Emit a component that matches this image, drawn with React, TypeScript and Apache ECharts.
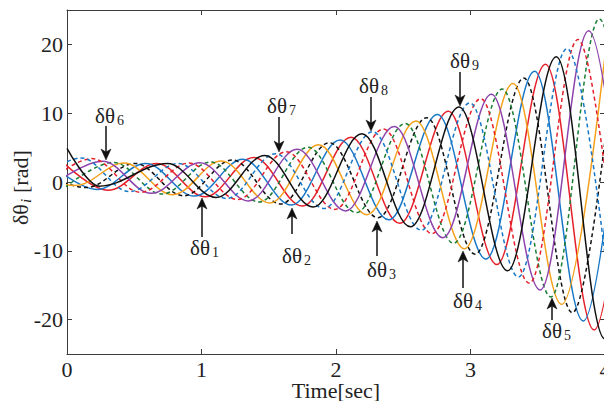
import React, { useEffect, useRef } from "react";
import * as echarts from "echarts";

// Axis tick values
const xTickValues = [0, 1, 2, 3, 4];
const yTickValues = [-20, -10, 0, 10, 20];

// Each curve: [time (sec), δθ (rad)] at its successive peaks / troughs
const dTheta1 = [[-0.056, 3.4], [0.305, -1.2], [0.667, 2.7], [1.028, -2.15], [1.389, 3.57], [1.751, -3.5], [2.112, 6.5], [2.474, -6.0], [2.835, 10.3], [3.196, -12.0], [3.558, 17.1], [3.919, -21.5], [4.281, 30.0]];
const dTheta2 = [[-0.137, 2.8], [0.224, -1.1], [0.586, 2.7], [0.947, -2.05], [1.308, 3.3], [1.67, -3.35], [2.031, 6.1], [2.393, -5.5], [2.754, 9.8], [3.115, -11.2], [3.477, 16.1], [3.838, -20.2], [4.199, 28.5]];
const dTheta3 = [[-0.217, 1.5], [0.144, -0.8], [0.506, 2.7], [0.867, -2.0], [1.229, 3.2], [1.59, -3.2], [1.951, 5.7], [2.313, -5.2], [2.674, 9.35], [3.035, -10.5], [3.397, 15.1], [3.758, -19.0], [4.119, 27.0]];
const dTheta4 = [[-0.297, 1.0], [0.064, -0.5], [0.425, 2.75], [0.787, -1.85], [1.148, 3.05], [1.51, -3.05], [1.871, 5.4], [2.232, -4.75], [2.594, 8.85], [2.955, -9.7], [3.316, 14.3], [3.678, -17.8], [4.039, 25.3]];
const dTheta5 = [[-0.016, -0.8], [0.345, 2.85], [0.707, -1.75], [1.068, 2.9], [1.429, -2.9], [1.791, 5.05], [2.152, -4.45], [2.514, 8.5], [2.875, -8.9], [3.236, 13.5], [3.598, -16.7], [3.959, 23.7], [4.321, -29.0]];
const dTheta6 = [[-0.096, -0.3], [0.265, 3.0], [0.626, -1.65], [0.988, 2.8], [1.349, -2.75], [1.711, 4.75], [2.072, -4.2], [2.433, 8.05], [2.795, -8.1], [3.156, 12.75], [3.518, -15.7], [3.879, 22.0], [4.24, -27.0]];
const dTheta7 = [[-0.176, -0.6], [0.185, 3.4], [0.546, -1.5], [0.907, 2.75], [1.269, -2.55], [1.63, 4.4], [1.992, -3.98], [2.353, 7.7], [2.714, -7.5], [3.076, 12.1], [3.437, -14.7], [3.799, 20.7], [4.16, -25.8]];
const dTheta8 = [[-0.257, -0.5], [0.104, 3.5], [0.465, -1.4], [0.827, 2.7], [1.188, -2.4], [1.55, 4.1], [1.911, -3.85], [2.272, 7.3], [2.634, -7.0], [2.995, 11.5], [3.357, -13.8], [3.718, 19.4], [4.079, -24.3]];
const dTheta9 = [[0, 4.9], [0.24, -0.6], [0.747, 2.7], [1.108, -2.25], [1.47, 3.85], [1.831, -3.65], [2.193, 7.0], [2.554, -6.5], [2.915, 10.9], [3.276, -12.9], [3.638, 18.2], [3.999, -22.8], [4.36, 32.0]];

const curves = [dTheta1, dTheta2, dTheta3, dTheta4, dTheta5, dTheta6, dTheta7, dTheta8, dTheta9];
const curveNames = ["δθ1", "δθ2", "δθ3", "δθ4", "δθ5", "δθ6", "δθ7", "δθ8", "δθ9"];
const annotationSubs = ["1", "2", "3", "4", "5", "6", "7", "8", "9"];

const SERIF = "'Liberation Serif', 'Times New Roman', serif";

export default function App() {
  const ref = useRef<HTMLDivElement>(null);

  useEffect(() => {
    if (!ref.current) return;
    const chart = echarts.init(ref.current, undefined, { renderer: "svg" });

    const styles = [
      { color: "#e5202a", type: "solid" },
      { color: "#1877c6", type: "solid" },
      { color: "#111111", type: [4, 3] },
      { color: "#f5a11c", type: "solid" },
      { color: "#1a7d34", type: [4, 3] },
      { color: "#8e44ad", type: "solid" },
      { color: "#e5202a", type: [4, 3] },
      { color: "#1877c6", type: [4, 3] },
      { color: "#111111", type: "solid" },
    ];

    // annotation layout (pixels)
    const annLayout = [
      { x: 202, tail: 237, tip: 198, tx: 190, base: 255 },
      { x: 292, tail: 234, tip: 208, tx: 282, base: 263 },
      { x: 377, tail: 256, tip: 221, tx: 367, base: 277 },
      { x: 463, tail: 288, tip: 251, tx: 453, base: 308 },
      { x: 552, tail: 320, tip: 298, tx: 542, base: 338 },
      { x: 106, tail: 126, tip: 160, tx: 95, base: 123 },
      { x: 279, tail: 117, tip: 152, tx: 267, base: 113 },
      { x: 371, tail: 97, tip: 131, tx: 359, base: 93 },
      { x: 460, tail: 72, tip: 106, tx: 450, base: 68 },
    ];

    const graphics: any[] = [];
    annLayout.forEach((a, i) => {
      const down = a.tip > a.tail;
      const d = down ? 1 : -1;
      graphics.push({
        type: "line",
        shape: { x1: a.x, y1: a.tail, x2: a.x, y2: a.tip - d * 7 },
        style: { stroke: "#111", lineWidth: 1.5 },
        silent: true,
      });
      graphics.push({
        type: "polygon",
        shape: {
          points: [
            [a.x, a.tip],
            [a.x - 5, a.tip - d * 11],
            [a.x, a.tip - d * 8],
            [a.x + 5, a.tip - d * 11],
          ],
        },
        style: { fill: "#111", stroke: "#111", lineWidth: 0.5 },
        silent: true,
      });
      graphics.push({
        type: "text",
        x: a.tx,
        y: a.base - 7.4,
        style: {
          text: "δθ",
          font: `21px ${SERIF}`,
          fill: "#222",
          align: "left",
          verticalAlign: "middle",
        },
        silent: true,
      });
      graphics.push({
        type: "text",
        x: a.tx + 22,
        y: a.base + 2 - 4.9,
        style: {
          text: annotationSubs[i],
          font: `14px ${SERIF}`,
          fill: "#222",
          align: "left",
          verticalAlign: "middle",
        },
        silent: true,
      });
    });

    // Y axis name, rotated
    graphics.push({
      type: "group",
      x: 28,
      y: 225,
      rotation: Math.PI / 2,
      silent: true,
      children: [
        {
          type: "text",
          x: 0,
          y: -7.7,
          style: { text: "δθ", font: `22px ${SERIF}`, fill: "#222", align: "left", verticalAlign: "middle" },
        },
        {
          type: "text",
          x: 22,
          y: 3 - 5.2,
          style: { text: "i", font: `italic 15px ${SERIF}`, fill: "#222", align: "left", verticalAlign: "middle" },
        },
        {
          type: "text",
          x: 32,
          y: -7.7,
          style: { text: "[rad]", font: `22px ${SERIF}`, fill: "#222", align: "left", verticalAlign: "middle" },
        },
      ],
    });

    const axisLineStyle = { color: "#3c3c3c", width: 1 };
    const labelStyle = { fontFamily: SERIF, fontSize: 22, color: "#222" };

    chart.setOption({
      animation: false,
      backgroundColor: "#ffffff",
      grid: {
        left: 67,
        top: 10,
        width: 538,
        height: 344,
        containLabel: false,
        outerBoundsMode: "none",
      },
      xAxis: [
        {
          type: "value",
          position: "bottom",
          min: 0,
          max: 4,
          interval: 1,
          axisLine: { show: true, onZero: false, lineStyle: axisLineStyle },
          axisTick: { show: true, inside: true, length: 5, lineStyle: axisLineStyle, customValues: xTickValues },
          axisLabel: { ...labelStyle, margin: 4, showMaxLabel: true, showMinLabel: true, customValues: xTickValues },
          splitLine: { show: false },
          name: "Time[sec]",
          nameLocation: "middle",
          nameGap: 25,
          nameMoveOverlap: false,
          nameTextStyle: labelStyle,
        },
        {
          type: "value",
          position: "top",
          min: 0,
          max: 4,
          interval: 1,
          axisLine: { show: true, onZero: false, lineStyle: axisLineStyle },
          axisTick: { show: true, inside: true, length: 5, lineStyle: axisLineStyle, customValues: xTickValues },
          axisLabel: { show: false },
          splitLine: { show: false },
        },
      ],
      yAxis: [
        {
          type: "value",
          position: "left",
          min: -25,
          max: 25,
          axisLine: { show: true, onZero: false, lineStyle: axisLineStyle },
          axisTick: { show: true, inside: true, length: 5, lineStyle: axisLineStyle, customValues: yTickValues },
          axisLabel: { ...labelStyle, margin: 4, customValues: yTickValues },
          splitLine: { show: false },
        },
        {
          type: "value",
          position: "right",
          min: -25,
          max: 25,
          axisLine: { show: true, onZero: false, lineStyle: axisLineStyle },
          axisTick: { show: true, inside: true, length: 5, lineStyle: axisLineStyle, customValues: yTickValues },
          axisLabel: { show: false },
          splitLine: { show: false },
        },
      ],
      series: curves.map((data, i) => ({
        name: curveNames[i],
        type: "line",
        data,
        xAxisIndex: 0,
        yAxisIndex: 0,
        showSymbol: false,
        symbol: "none",
        smooth: 0.36,
        smoothMonotone: "x",
        clip: true,
        silent: true,
        lineStyle: { color: styles[i].color, width: 1.5, type: styles[i].type as any },
      })),
      graphic: graphics,
    });

    return () => {
      chart.dispose();
    };
  }, []);

  return (
    <div
      ref={ref}
      style={{ position: "fixed", left: 0, top: 0, width: 604, height: 401 }}
    />
  );
}
